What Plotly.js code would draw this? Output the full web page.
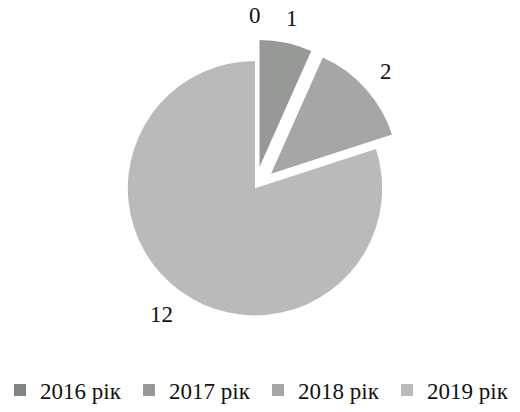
<!DOCTYPE html>
<html>
<head>
<meta charset="utf-8">
<script src="https://cdn.plot.ly/plotly-3.0.1.min.js"></script>
<style>html,body{margin:0;padding:0;background:#fff;}#chart{width:520px;height:412px;}</style>
</head>
<body>
<div id="chart"></div>
<script>
var categories = ["2016 рік", "2017 рік", "2018 рік", "2019 рік"];
var values = [0, 1, 2, 12];
var sliceColors = ["#7f867f", "#979997", "#a6a6a6", "#bababa"];
var pulls = [0.17, 0.17, 0.17, 0];

var W = 520, H = 412;
var dom = {x: [95 / W, 415 / W], y: [1 - 342 / H, 1 - 40 / H]};
var labelFont = 23, labelGap = 16;

var trace = {
  type: "pie",
  labels: categories,
  values: values,
  sort: false,
  direction: "clockwise",
  rotation: 0,
  pull: pulls,
  marker: {colors: sliceColors, line: {width: 0}},
  textinfo: "none",
  automargin: false,
  domain: dom,
  hoverinfo: "none"
};

// value labels placed outside each slice, following Plotly's own pie geometry
var boxW = (dom.x[1] - dom.x[0]) * W, boxH = (dom.y[1] - dom.y[0]) * H;
var maxPull = Math.max.apply(null, pulls);
var r = Math.min(boxW, boxH) / (2 + 2 * maxPull);
var cx = (dom.x[0] + dom.x[1]) / 2 * W, cy = (1 - (dom.y[0] + dom.y[1]) / 2) * H;
var total = values.reduce(function (a, b) { return a + b; }, 0);
var cum = 0;
var annotations = values.map(function (v, i) {
  var th = 2 * Math.PI * (cum + v / 2) / total;
  cum += v;
  var dx = Math.sin(th), dy = -Math.cos(th);
  var txt = String(v);
  var hw = 0.25 * labelFont * txt.length, hh = 0.35 * labelFont;
  var proj = hw * Math.abs(dx) + hh * Math.abs(dy);
  var d = pulls[i] * r + r + labelGap + proj;
  var px = cx + d * dx, py = cy + d * dy;
  return {
    text: txt, showarrow: false, xref: "paper", yref: "paper",
    x: px / W, y: 1 - py / H, xanchor: "center", yanchor: "middle",
    font: {family: "Liberation Serif", size: labelFont, color: "#111"}
  };
});

var layout = {
  width: W, height: H,
  margin: {l: 0, r: 0, t: 0, b: 0},
  paper_bgcolor: "#fff",
  showlegend: true,
  annotations: annotations,
  legend: {
    orientation: "h", x: 0, xanchor: "left", y: 1 - 374 / H, yanchor: "top",
    font: {family: "Liberation Serif", size: 23, color: "#111"},
    itemwidth: 30, entrywidth: 84, entrywidthmode: "pixels", traceorder: "normal"
  }
};

Plotly.newPlot("chart", [trace], layout, {staticPlot: true});
</script>
</body>
</html>
